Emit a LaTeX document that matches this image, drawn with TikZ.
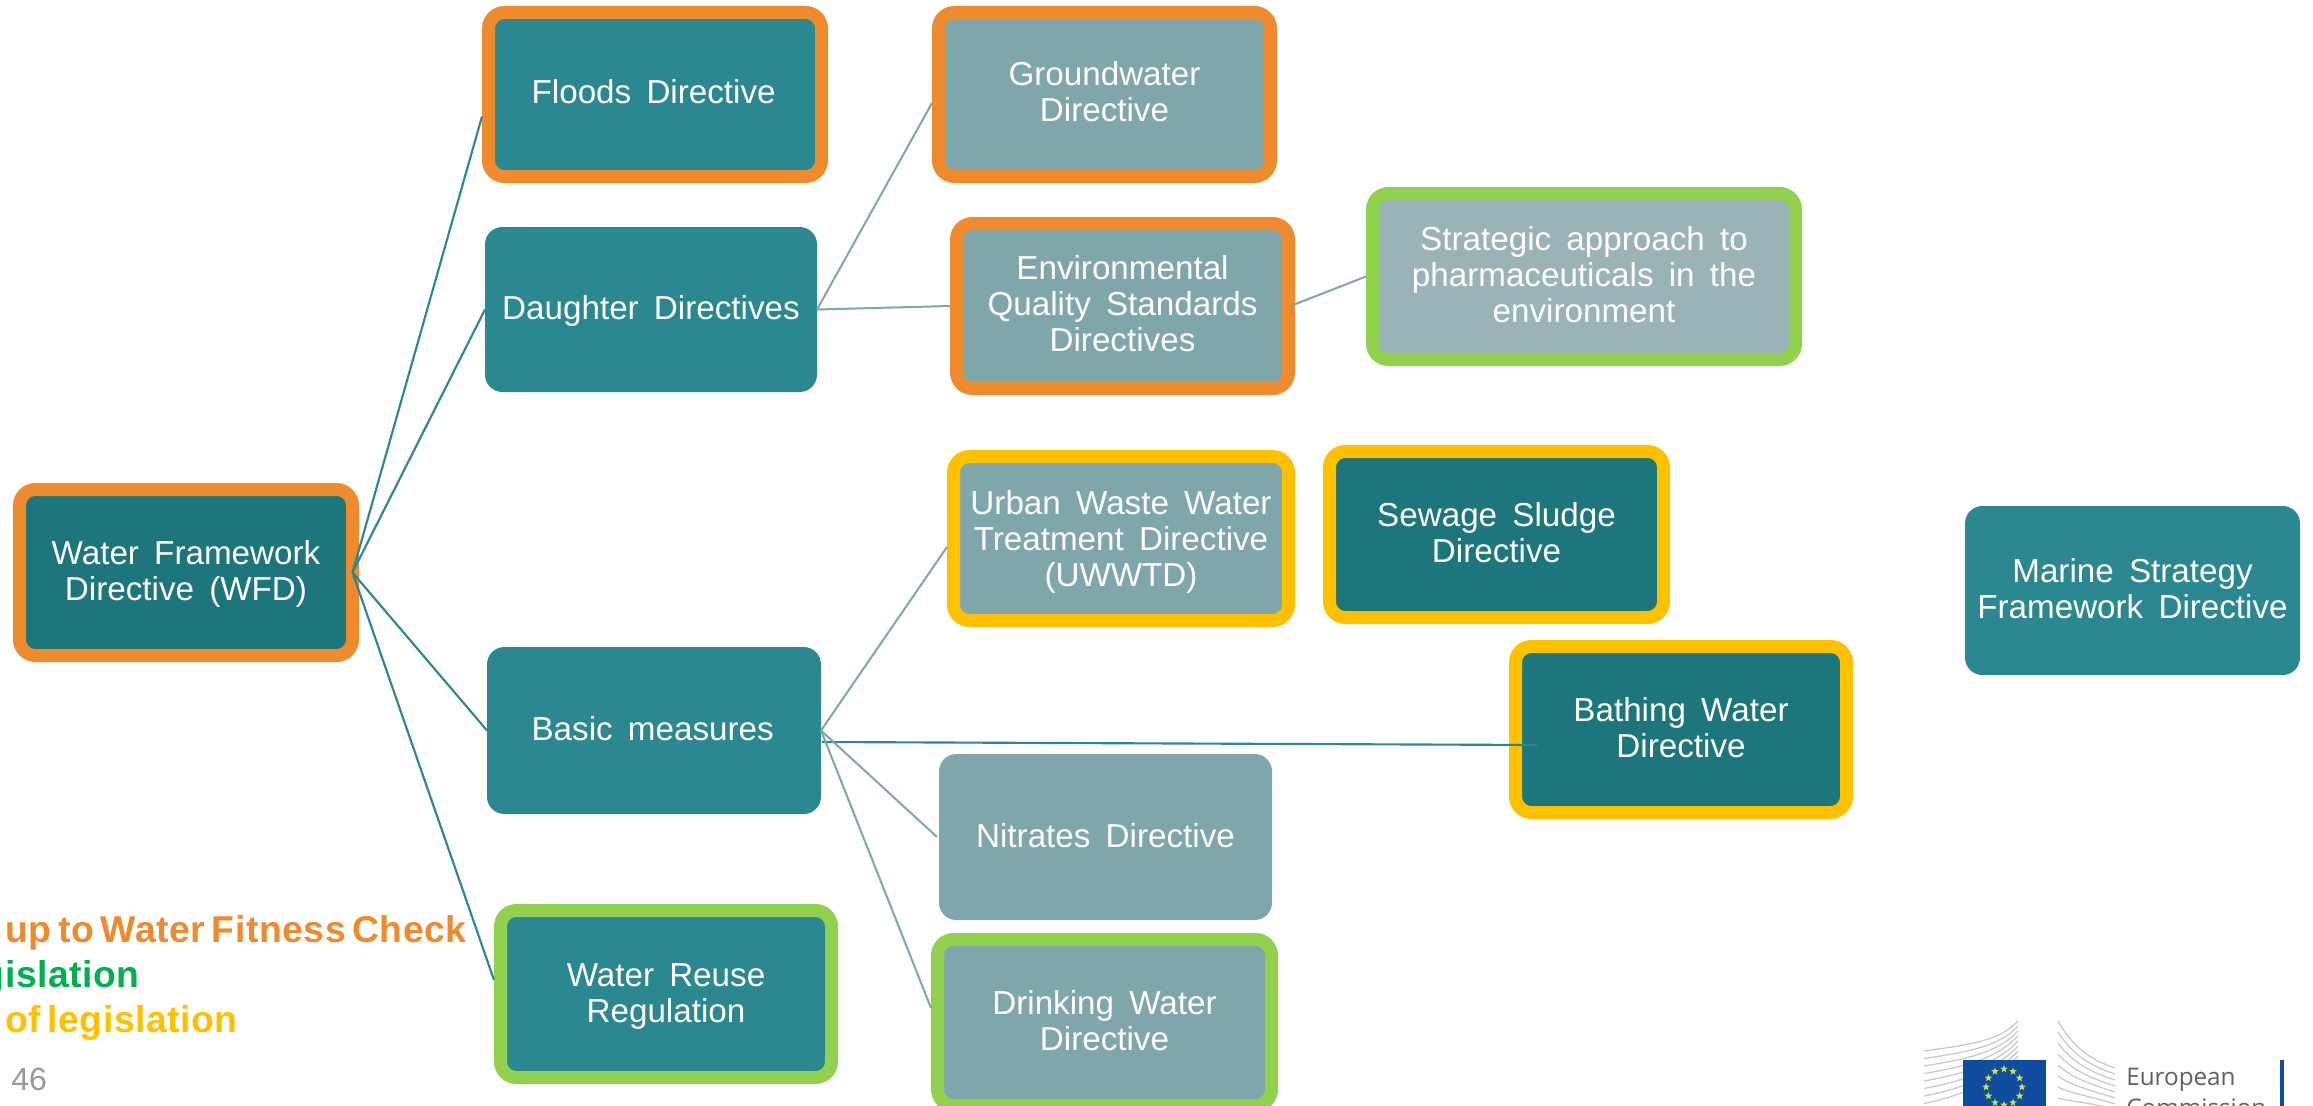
\documentclass[tikz,border=0pt]{standalone}
\usepackage{fontspec}
\setmainfont[WordSpace=1.65]{Liberation Sans}
\newfontfamily\legendfont[WordSpace=0.6,LetterSpace=1.5]{Liberation Sans}
\newfontfamily\logofont{Open Sans}
\usetikzlibrary{shapes.geometric}
\definecolor{tealdark}{HTML}{1C767B}
\definecolor{tealmid}{HTML}{2B8790}
\definecolor{teallight}{HTML}{7FA7AB}
\definecolor{tealpale}{HTML}{99B3B7}
\definecolor{edgeorange}{HTML}{EE8B2F}
\definecolor{edgegreen}{HTML}{92D050}
\definecolor{edgeyellow}{HTML}{FFC000}
\definecolor{legendgreen}{HTML}{00B050}
\definecolor{flagblue}{HTML}{0F4C9E}
\definecolor{starcolor}{HTML}{C9E24A}
\tikzset{
  sz/.style 2 args={minimum width=#1*0.75pt,minimum height=#2*0.75pt},
  cardtext/.style={inner sep=0pt,outer sep=0pt,text=white,align=center,
    font=\fontsize{24.9}{27}\selectfont},
  card/.style={rectangle,rounded corners=13pt,inner sep=0pt,outer sep=0pt},
  framed/.style={card,line width=9.75pt,rounded corners=12pt},
  orangebox/.style={framed,draw=edgeorange},
  greenbox/.style={framed,draw=edgegreen},
  yellowbox/.style={framed,draw=edgeyellow},
  linkdark/.style={draw=tealmid,line width=1.6pt},
  linklight/.style={draw=teallight,line width=1.5pt},
  legend/.style={inner sep=0pt,font=\fontsize{28}{28}\legendfont\bfseries\selectfont},
}
\begin{document}
\begin{tikzpicture}[x=0.75pt,y=-0.75pt]
\useasboundingbox (0,0) rectangle (2313,1106);
\clip (0,0) rectangle (2313,1106);
\fill[white] (0,0) rectangle (2313,1106);

% boxes
\node[orangebox,fill=tealdark,sz={333}{166},label={[cardtext,yshift=-1.1pt]center:{Water Framework\\Directive (WFD)}}] (wfd) at (186,572.5) {};
\node[orangebox,fill=tealmid,sz={333}{164},label={[cardtext,yshift=2.2pt,xshift=-1pt]center:{Floods Directive}}] (floods) at (655,94.5) {};
\node[card,fill=tealmid,sz={332}{165},label={[cardtext,yshift=-1.1pt]center:{Daughter Directives}}] (daughter) at (651,309.5) {};
\node[card,fill=tealmid,sz={334}{167},label={[cardtext,yshift=1.1pt,xshift=-1pt]center:{Basic measures}}] (basic) at (654,730.5) {};
\node[greenbox,fill=tealmid,sz={331}{167},label={[cardtext,yshift=-2.2pt]center:{Water Reuse\\Regulation}}] (reuse) at (666,994) {};
\node[orangebox,fill=teallight,sz={332}{164},label={[cardtext,yshift=2.2pt]center:{Groundwater\\Directive}}] (ground) at (1104.5,94.5) {};
\node[orangebox,fill=teallight,sz={332}{165},label={[cardtext,yshift=1.9pt]center:{Environmental\\Quality Standards\\Directives}}] (eqs) at (1122.5,306) {};
\node[greenbox,fill=tealpale,sz={423}{166},label={[cardtext,yshift=1.6pt]center:{Strategic approach to\\pharmaceuticals in the\\environment}}] (pharma) at (1584,276.5) {};
\node[yellowbox,fill=teallight,sz={335}{164},label={[cardtext,yshift=-2.2pt]center:{Urban Waste Water\\Treatment Directive\\(UWWTD)}}] (uwwtd) at (1121,538.5) {};
\node[yellowbox,fill=tealdark,sz={334}{166},label={[cardtext,yshift=1.1pt]center:{Sewage Sludge\\Directive}}] (sludge) at (1496.5,534.5) {};
\node[yellowbox,fill=tealdark,sz={331}{166},label={[cardtext,yshift=1.6pt]center:{Bathing Water\\Directive}}] (bathing) at (1681,729.5) {};
\node[card,fill=teallight,sz={333}{166},label={[cardtext,yshift=1.1pt]center:{Nitrates Directive}}] (nitrates) at (1105.5,837) {};
\node[greenbox,fill=teallight,sz={334}{166},label={[cardtext,yshift=1.1pt]center:{Drinking Water\\Directive}}] (drinking) at (1104.5,1022.5) {};
\node[card,fill=tealmid,sz={335}{169},label={[cardtext,yshift=1.6pt]center:{Marine Strategy\\Framework Directive}}] (marine) at (2132.5,590.5) {};

% connectors
\draw[linkdark] (wfd.east) -- ([shift={(-6.5,22)}]floods.west);
\draw[linkdark] (wfd.east) -- (daughter.west);
\draw[linkdark] (wfd.east) -- (basic.west);
\draw[linkdark] (wfd.east) -- ([shift={(-6.5,-14)}]reuse.west);
\draw[linklight] (daughter.east) -- ([shift={(-6.5,8.5)}]ground.west);
\draw[linklight] (daughter.east) -- ([shift={(-6.5,0)}]eqs.west);
\draw[linklight] ([shift={(2,0)}]eqs.east) -- ([shift={(-6.5,0)}]pharma.west);
\draw[linklight] (basic.east) -- ([shift={(-6.5,8.5)}]uwwtd.west);
\draw[linkdark] ([shift={(1,11.5)}]basic.east) -- ([shift={(21.5,15.5)}]bathing.west);
\draw[linklight] (basic.east) -- ([shift={(-2,0)}]nitrates.west);
\draw[linklight] (basic.east) -- ([shift={(-6.5,-14.5)}]drinking.west);

% legend
\node[legend,text=edgeorange,anchor=base east] (legA) at (467,942) {up to Water Fitness Check};
\node[legend,text=legendgreen,anchor=base east] (legB) at (140,987) {gislation};
\node[legend,text=edgeyellow,anchor=base east] (legC) at (238,1032) {of legislation};
\node[inner sep=0pt,anchor=base west,text=black!40,font=\fontsize{24}{24}\selectfont] (pageno) at (11,1090) {46};

% logo
\foreach \i in {0,...,7}{
  \draw[black!22,line width=0.9pt] (1924,1051+\i*7.5) .. controls (1975,{1044+\i*7}) and (2000,{1040+\i*5}) .. (2018,{1021+\i*5});
  \draw[black!22,line width=0.9pt] (2058,{1021+\i*11}) .. controls (2072,{1046+\i*8}) and (2090,{1060+\i*6}) .. (2115,{1068+\i*6});
}
\fill[flagblue] (1963,1060) rectangle (2046,1110);
\foreach \a in {0,30,...,330}{
  \node[star,star points=5,star point ratio=2.4,fill=starcolor,inner sep=0pt,minimum size=6pt] at ({2004+18*sin(\a)},{1087-18*cos(\a)}) {};
}
\node[inner sep=0pt,anchor=base west,text=black!62,font=\fontsize{18.2}{18}\logofont\selectfont] (logoA) at (2126,1085) {European};
\node[inner sep=0pt,anchor=base west,text=black!62,font=\fontsize{18.2}{18}\logofont\selectfont] (logoB) at (2126,1116) {Commission};
\fill[flagblue] (2280,1060) rectangle (2284,1110);
\end{tikzpicture}
\end{document}
